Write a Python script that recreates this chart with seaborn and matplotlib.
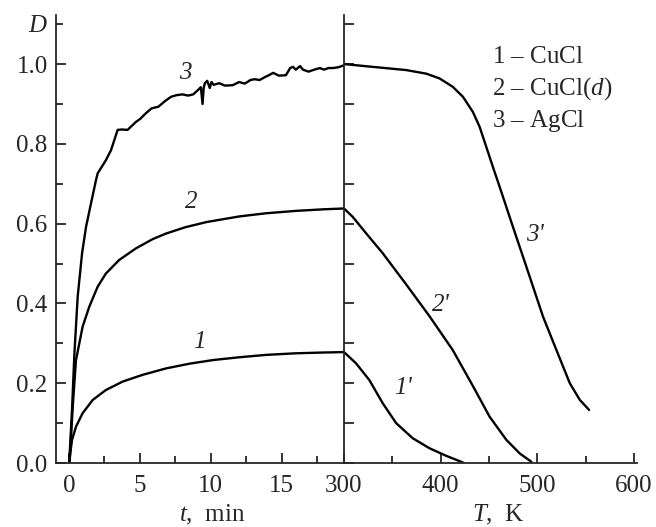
import matplotlib
matplotlib.use("Agg")
import matplotlib.pyplot as plt
import seaborn as sns
from matplotlib.ticker import MultipleLocator

# ---- data ----
# left panel: D vs t (min)
t1 = [0, 0.21, 0.49, 0.96, 1.67, 2.6, 3.78, 5.19, 6.83, 8.5, 10.15, 12, 13.9, 16, 18, 19.4]
d1 = [0, 0.058, 0.091, 0.125, 0.158, 0.183, 0.204, 0.221, 0.237, 0.249, 0.258, 0.265, 0.271,
      0.275, 0.277, 0.278]

t2 = [0, 0.05, 0.26, 0.49, 0.96, 1.43, 2.02, 2.6, 3.54, 4.72, 5.89, 6.83, 8.2, 9.7, 12, 13.9, 16,
      18, 19.4]
d2 = [0, 0.007, 0.141, 0.258, 0.342, 0.392, 0.442, 0.475, 0.509, 0.538, 0.561, 0.575, 0.591,
      0.604, 0.618, 0.626, 0.632, 0.636, 0.638]

t3 = [0, 0.02, 0.21, 0.38, 0.61, 0.92, 1.2, 1.55, 1.9, 2.02, 2.6, 2.96, 3.43, 3.7, 4.13, 4.72,
      5.0, 5.4, 5.82, 6.3, 6.8, 7.2, 7.58, 8.0, 8.4, 8.76, 9.1, 9.3, 9.42, 9.5, 9.58, 9.75, 9.93,
      10.05, 10.2, 10.6, 11.0, 11.55, 12.0, 12.4, 12.8, 13.1, 13.45, 13.8, 14.1, 14.4, 14.8, 15.3,
      15.6, 15.8, 16.0, 16.3, 16.5, 16.9, 17.3, 17.7, 18.0, 18.3, 18.6, 19.0, 19.4]
d3 = [0, 0.0075, 0.133, 0.275, 0.417, 0.526, 0.592, 0.651, 0.709, 0.726, 0.759, 0.784, 0.835,
      0.836, 0.835, 0.855, 0.862, 0.876, 0.889, 0.893, 0.908, 0.918, 0.922, 0.924, 0.921, 0.924,
      0.935, 0.942, 0.90, 0.94, 0.952, 0.958, 0.94, 0.955, 0.948, 0.952, 0.946, 0.947, 0.955,
      0.951, 0.96, 0.962, 0.96, 0.967, 0.972, 0.978, 0.971, 0.972, 0.99, 0.993, 0.986, 0.995,
      0.986, 0.981, 0.986, 0.99, 0.986, 0.99, 0.99, 0.992, 0.997]

# right panel: D vs T (K)
T1 = [300, 312.4, 326.2, 340, 353.9, 371.1, 388.4, 405.7, 421.2, 424]
D1 = [0.278, 0.25, 0.208, 0.15, 0.1, 0.062, 0.037, 0.018, 0.003, 0.0]

T2 = [300, 309, 322.8, 340, 364.2, 388.4, 412.5, 433.3, 450.6, 467.9, 481.7, 493.8]
D2 = [0.638, 0.617, 0.576, 0.526, 0.448, 0.368, 0.283, 0.193, 0.116, 0.058, 0.024, 0.003]

T3 = [300, 329.6, 364.2, 385, 398.8, 412.5, 423, 433.3, 440.2, 447.2, 454, 461, 474.7, 488.6,
      505.8, 519.7, 533.5, 543.9, 553.5]
D3 = [1.0, 0.993, 0.985, 0.976, 0.964, 0.943, 0.918, 0.88, 0.843, 0.792, 0.742, 0.692, 0.592,
      0.492, 0.367, 0.283, 0.2, 0.158, 0.133]

legend_lines = [r"$\mathit{1}$ – CuCl", r"$\mathit{2}$ – CuCl($\mathit{d}$)", r"$\mathit{3}$ – AgCl"]

sns.set_style("ticks")
plt.rcParams['font.family'] = ['Liberation Serif', 'DejaVu Serif']
plt.rcParams['mathtext.fontset'] = 'custom'
plt.rcParams['mathtext.rm'] = 'Liberation Serif'
plt.rcParams['mathtext.it'] = 'Liberation Serif:italic'
FS = 18

fig = plt.figure(figsize=(6.56, 5.27), dpi=100)
ax1 = fig.add_axes([56 / 656, 1 - 463 / 527, (344 - 56) / 656, 448 / 527])
ax2 = fig.add_axes([344 / 656, 1 - 463 / 527, (637 - 344) / 656, 448 / 527])

lw = 1.7
for x, y in [(t1, d1), (t2, d2), (t3, d3)]:
    sns.lineplot(x=x, y=y, ax=ax1, color='black', lw=lw, sort=False, estimator=None)
for x, y in [(T1, D1), (T2, D2), (T3, D3)]:
    sns.lineplot(x=x, y=y, ax=ax2, color='black', lw=lw, sort=False, estimator=None)

ax1.set_xlim(-0.92, 19.4)
ax2.set_xlim(300, 603)
for ax in (ax1, ax2):
    ax.set_ylim(0, 1.123)
    ax.set_facecolor('none')
    for s in ('top', 'right'):
        ax.spines[s].set_visible(False)
    for s in ('left', 'bottom'):
        ax.spines[s].set_linewidth(1.3)

ax1.xaxis.set_major_locator(MultipleLocator(5))
ax1.xaxis.set_minor_locator(MultipleLocator(2.5))
ax1.yaxis.set_major_locator(MultipleLocator(0.2))
ax1.yaxis.set_minor_locator(MultipleLocator(0.1))
ax1.tick_params(which='both', direction='in', width=1.3, labelsize=FS)
ax1.tick_params(which='major', length=7)
ax1.tick_params(which='minor', length=5)
ax1.tick_params(axis='x', pad=9)
ax1.tick_params(axis='y', pad=6)

ax2.xaxis.set_major_locator(MultipleLocator(100))
ax2.xaxis.set_minor_locator(MultipleLocator(50))
ax2.yaxis.set_major_locator(MultipleLocator(0.1))
ax2.tick_params(which='both', direction='in', width=1.3, labelsize=FS)
ax2.tick_params(which='major', length=7)
ax2.tick_params(which='minor', length=5)
ax2.tick_params(axis='x', pad=9)
ax2.tick_params(axis='y', labelleft=False, length=7)

# curve labels
for ax, txt, x, y in [(ax1, '3', 8.17, 0.977), (ax1, '2', 8.64, 0.655), (ax1, '1', 9.2, 0.304),
                      (ax2, "3'", 497, 0.571), (ax2, "2'", 400.5, 0.396), (ax2, "1'", 360.7, 0.187)]:
    ax.text(x, y, txt, fontsize=FS, style='italic', ha='center', va='center')

for i, line in enumerate(legend_lines):
    fig.text(492 / 656, 1 - (63 + 32 * i) / 527, line, fontsize=FS, ha='left', va='baseline')

fig.text(37 / 656, 1 - 26 / 527, 'D', fontsize=FS, style='italic', ha='center', va='center')
fig.text(212 / 656, 1 - 515 / 527, r'$t$,  min', fontsize=FS, ha='center', va='center')
fig.text(498 / 656, 1 - 515 / 527, r'$T$,  K', fontsize=FS, ha='center', va='center')

plt.savefig('out.png', dpi=100)
plt.close()
